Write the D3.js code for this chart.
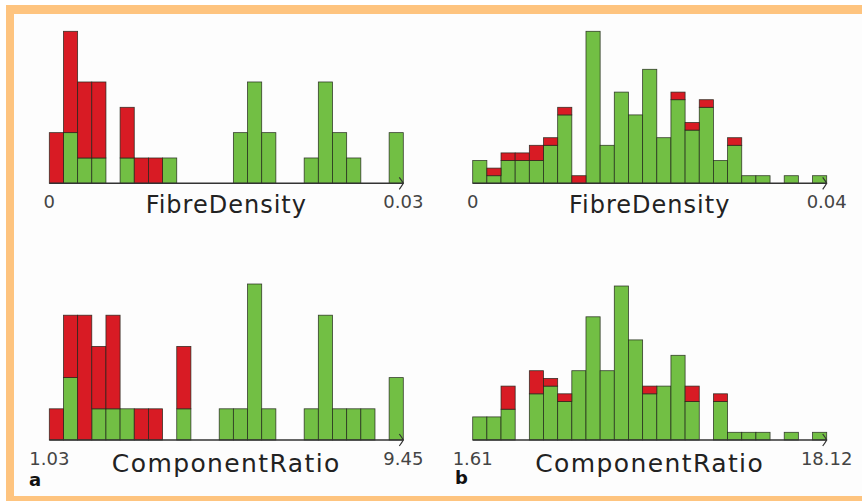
<!DOCTYPE html>
<html>
<head>
<meta charset="utf-8">
<script src="https://cdn.jsdelivr.net/npm/d3@7"></script>
<style>
  html, body { margin: 0; padding: 0; background: #ffffff; }
  svg { display: block; }
</style>
</head>
<body>
<svg id="chart" width="862" height="501"></svg>
<script>
// Bin counts per histogram: green = kept, red = rejected (stacked on top)
const fibreA_green = [0,2,1,1,0,1,0,0,1,0,0,0,0,2,4,2,0,0,1,4,2,1,0,0,2];
const fibreA_red   = [2,4,3,3,0,2,1,1,0,0,0,0,0,0,0,0,0,0,0,0,0,0,0,0,0];
const ratioA_green = [0,2,0,1,1,1,0,0,0,1,0,0,1,1,5,1,0,0,1,4,1,1,1,0,2];
const ratioA_red   = [1,2,4,2,3,0,1,1,0,2,0,0,0,0,0,0,0,0,0,0,0,0,0,0,0];
const fibreB_green = [3,1,3,3,3,5,9,0,20,5,12,9,15,6,11,7,10,3,5,1,1,0,1,0,1];
const fibreB_red   = [0,1,1,1,2,1,1,1,0,0,0,0,0,0,1,1,1,0,1,0,0,0,0,0,0];
const ratioB_green = [3,3,4,0,6,7,5,9,16,9,20,13,6,7,11,5,0,5,1,1,1,0,1,0,1];
const ratioB_red   = [0,0,3,0,3,1,1,0,0,0,0,0,1,0,0,2,0,1,0,0,0,0,0,0,0];

// Axis end labels and titles
const fibreA_ticks = ["0", "0.03"];
const fibreB_ticks = ["0", "0.04"];
const ratioA_ticks = ["1.03", "9.45"];
const ratioB_ticks = ["1.61", "18.12"];
const axisTitles = ["FibreDensity", "ComponentRatio"];
const panelLetters = ["a", "b"];

const GREEN = "#72bf44";
const RED = "#d81b24";
const ORANGE = "#fec47f";

const svg = d3.select("#chart");

// Frame: orange band along the top, left and bottom
svg.append("rect").attr("x", 6).attr("y", 5).attr("width", 900).attr("height", 600).attr("fill", ORANGE);
svg.append("rect").attr("x", 14).attr("y", 14).attr("width", 900).attr("height", 482).attr("fill", "#fdfdfd");

const panels = [
  { green: fibreA_green, red: fibreA_red, ticks: fibreA_ticks, title: axisTitles[0], x0: 49.3, x1: 403.3, base: 183.3, h: 152, titleSize: 24, titleSpacing: 1.0, titleDy: 30 },
  { green: fibreB_green, red: fibreB_red, ticks: fibreB_ticks, title: axisTitles[0], x0: 472.7, x1: 826.7, base: 183.3, h: 152, titleSize: 24, titleSpacing: 1.0, titleDy: 30 },
  { green: ratioA_green, red: ratioA_red, ticks: ratioA_ticks, title: axisTitles[1], x0: 49.3, x1: 403.3, base: 440, h: 156, titleSize: 25, titleSpacing: 1.4, titleDy: 31.5, letter: panelLetters[0], lx: 29, ly: 486 },
  { green: ratioB_green, red: ratioB_red, ticks: ratioB_ticks, title: axisTitles[1], x0: 472.7, x1: 826.7, base: 440, h: 154, titleSize: 25, titleSpacing: 1.4, titleDy: 31.5, letter: panelLetters[1], lx: 455, ly: 484 }
];

panels.forEach(p => {
  const rows = p.green.map((g, i) => ({ bin: i, green: g, red: p.red[i] }));
  const stacked = d3.stack().keys(["green", "red"])(rows);
  const maxTotal = d3.max(rows, d => d.green + d.red);

  const x = d3.scaleBand().domain(d3.range(rows.length)).range([p.x0, p.x1]).padding(0);
  const y = d3.scaleLinear().domain([0, maxTotal]).range([p.base, p.base - p.h]);

  const g = svg.append("g");

  g.selectAll("g.layer")
    .data(stacked)
    .join("g")
    .attr("class", "layer")
    .attr("fill", d => d.key === "green" ? GREEN : RED)
    .selectAll("rect")
    .data(d => d.filter(s => s[1] > s[0]))
    .join("rect")
    .attr("x", s => x(s.data.bin))
    .attr("width", x.bandwidth())
    .attr("y", s => y(s[1]))
    .attr("height", s => y(s[0]) - y(s[1]))
    .attr("stroke", "rgba(30,35,25,0.85)")
    .attr("stroke-width", 0.8);

  // Axis line with open arrow head
  const ax = g.append("g").attr("stroke", "#333").attr("fill", "none").attr("stroke-width", 1.6);
  ax.append("line").attr("x1", p.x0).attr("x2", p.x1).attr("y1", p.base).attr("y2", p.base);
  ax.append("path")
    .attr("d", `M${p.x1 - 4},${p.base - 6} Q${p.x1 - 1},${p.base - 2} ${p.x1},${p.base} Q${p.x1 - 1},${p.base + 2} ${p.x1 - 4},${p.base + 6}`)
    .attr("stroke-width", 1.2);

  // End labels
  g.selectAll("text.tick")
    .data(p.ticks)
    .join("text")
    .attr("class", "tick")
    .attr("x", (d, i) => i === 0 ? p.x0 : p.x1)
    .attr("y", p.base + 24.5)
    .attr("text-anchor", "middle")
    .attr("font-family", "DejaVu Sans, sans-serif")
    .attr("font-size", 18)
    .attr("fill", "#444")
    .text(d => d);

  // Axis title
  g.append("text")
    .attr("x", (p.x0 + p.x1) / 2)
    .attr("y", p.base + p.titleDy)
    .attr("text-anchor", "middle")
    .attr("font-family", "DejaVu Sans, sans-serif")
    .attr("font-size", p.titleSize)
    .attr("letter-spacing", p.titleSpacing)
    .attr("fill", "#222")
    .text(p.title);

  if (p.letter) {
    g.append("text")
      .attr("x", p.lx)
      .attr("y", p.ly)
      .attr("font-family", "DejaVu Sans, sans-serif")
      .attr("font-weight", "bold")
      .attr("font-size", 18)
      .attr("fill", "#111")
      .text(p.letter);
  }
});
</script>
</body>
</html>
